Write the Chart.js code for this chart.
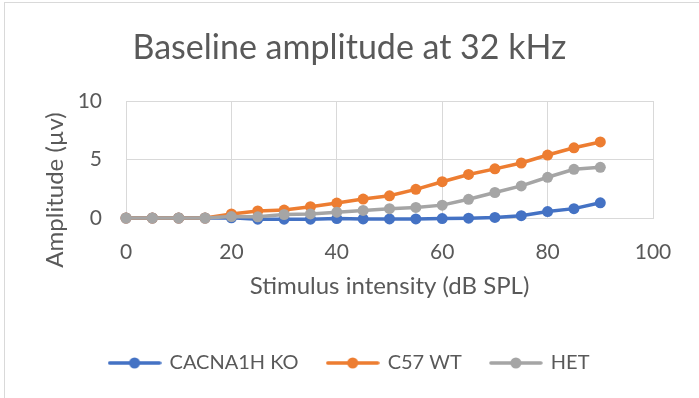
<!DOCTYPE html>
<html>
<head>
<meta charset="utf-8">
<script src="https://cdn.jsdelivr.net/npm/chart.js@4.4.1/dist/chart.umd.min.js"></script>
<style>
  html, body { margin: 0; padding: 0; background: #fff; }
  #wrap { position: relative; width: 699px; height: 398px; }
  #frame { position: absolute; left: 4px; top: 2px; width: 695px; height: 396px;
           border-left: 1px solid #d9d9d9; border-top: 1px solid #d9d9d9;
           box-sizing: border-box; pointer-events: none; }
</style>
</head>
<body>
<div id="wrap">
  <canvas id="chart" width="699" height="398"></canvas>
  <div id="frame"></div>
</div>
<script>
// stimulus intensity (dB SPL)
const intensity = [0, 5, 10, 15, 20, 25, 30, 35, 40, 45, 50, 55, 60, 65, 70, 75, 80, 85, 90];
// amplitude (µv) per group
const ko_amp  = [0, 0, 0, 0, 0.02, -0.1, -0.1, -0.1, -0.05, -0.08, -0.08, -0.08, -0.05, -0.02, 0.05, 0.2, 0.55, 0.8, 1.3];
const wt_amp  = [0, 0, 0, 0, 0.35, 0.6, 0.68, 0.97, 1.28, 1.62, 1.9, 2.45, 3.1, 3.72, 4.2, 4.7, 5.38, 6.0, 6.5];
const het_amp = [0, 0, 0, 0, 0.12, 0.1, 0.3, 0.35, 0.5, 0.65, 0.8, 0.9, 1.1, 1.6, 2.18, 2.74, 3.48, 4.16, 4.33];

const series_names = ["CACNA1H KO", "C57 WT", "HET"];
const series_colors = ["#4472C4", "#ED7D31", "#A5A5A5"];

const y_title = "Amplitude (µv)";

const FONT = "Lato";
const TEXT = "#595959";
const GRID = "#d9d9d9";

// legend symbol: line with a dot, like excel
function makeIcon(color) {
  const c = document.createElement("canvas");
  c.width = 54; c.height = 14;
  const g = c.getContext("2d");
  g.strokeStyle = color;
  g.lineWidth = 3.5;
  g.lineCap = "round";
  g.beginPath(); g.moveTo(2, 7); g.lineTo(52, 7); g.stroke();
  g.fillStyle = color;
  g.beginPath(); g.arc(27, 7, 5.5, 0, Math.PI * 2); g.fill();
  return c;
}
const legend_icons = series_colors.map(makeIcon);

function toPoints(values) {
  return intensity.map((x, i) => ({ x: x, y: values[i] }));
}

const all_values = [ko_amp, wt_amp, het_amp];
const datasets = all_values.map((vals, i) => ({
  label: series_names[i],
  data: toPoints(vals),
  borderColor: series_colors[i],
  backgroundColor: series_colors[i],
  borderWidth: 3.5,
  pointRadius: 5.5,
  pointBorderWidth: 0,
  pointHoverRadius: 5.5,
  clip: false,
  yAxisID: "y",
  order: 3 - i   // last series drawn on top
}));

// y axis title sits lower than the plot centre in the original, so draw it here
const yTitlePlugin = {
  id: "yTitle",
  afterDraw(chart) {
    const c = chart.ctx;
    c.save();
    c.translate(55, 190);
    c.rotate(-Math.PI / 2);
    c.font = "24px " + FONT;
    c.fillStyle = TEXT;
    c.textAlign = "center";
    c.textBaseline = "middle";
    c.fillText(y_title, 0, 0);
    c.restore();
  }
};

const ctx = document.getElementById("chart").getContext("2d");
new Chart(ctx, {
  type: "line",
  data: { datasets: datasets },
  plugins: [yTitlePlugin],
  options: {
    responsive: false,
    animation: false,
    layout: { padding: { left: 0, right: 0, top: 0, bottom: 15 } },
    plugins: {
      title: {
        display: true,
        text: "Baseline amplitude at 32 kHz",
        color: TEXT,
        font: { family: FONT, size: 34, weight: "normal" },
        padding: { top: 27.5, bottom: 32.7 }
      },
      legend: {
        position: "bottom",
        labels: {
          color: TEXT,
          font: { family: FONT, size: 20 },
          usePointStyle: true,
          pointStyleWidth: 50,
          padding: 29,
          sort: (a, b) => a.datasetIndex - b.datasetIndex,
          generateLabels(chart) {
            const items = Chart.defaults.plugins.legend.labels.generateLabels(chart);
            items.forEach(it => { it.pointStyle = legend_icons[it.datasetIndex]; });
            return items;
          }
        }
      },
      tooltip: { enabled: false }
    },
    scales: {
      x: {
        type: "linear",
        min: 0, max: 100,
        ticks: { stepSize: 20, color: TEXT, font: { family: FONT, size: 21 }, padding: 21.5, maxRotation: 0 },
        grid: { color: GRID, drawTicks: false },
        border: { color: GRID },
        title: {
          display: true,
          text: "Stimulus intensity (dB SPL)",
          color: TEXT,
          font: { family: FONT, size: 24 },
          padding: { top: 0, bottom: 23.6 }
        },
        afterFit(scale) { scale.height = 106; }
      },
      y: {
        min: 0, max: 10,
        ticks: { stepSize: 5, color: TEXT, font: { family: FONT, size: 21 }, padding: 24 },
        grid: { color: GRID, drawTicks: false },
        border: { color: GRID },
        afterFit(scale) { scale.width = 126; }
      },
      // empty right axis: keeps the plot's right margin while title and legend stay centred on the page
      y_right: {
        position: "right",
        ticks: { display: false },
        grid: { display: false },
        border: { display: false },
        afterFit(scale) { scale.width = 46; }
      }
    }
  }
});
</script>
</body>
</html>
